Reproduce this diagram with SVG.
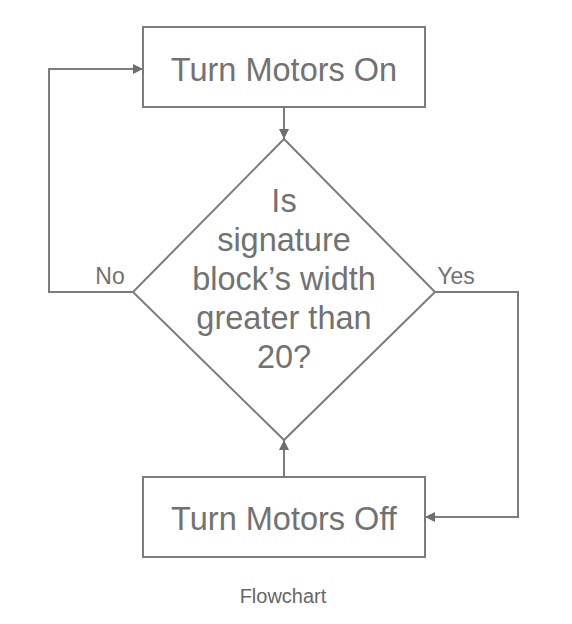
<svg xmlns="http://www.w3.org/2000/svg" width="572" height="624" viewBox="0 0 572 624">
<style>
.shape{fill:#fff;stroke:#7c7c7c;stroke-width:2}
.edge{fill:none;stroke:#7c7c7c;stroke-width:2}
.t{font-family:"Liberation Sans",Arial,sans-serif;fill:#727272;text-anchor:middle}
.big{font-size:32.5px}
.lbl{font-size:23px}
.cap{font-size:20px;fill:#666}
</style>
<defs>
<marker id="ah" viewBox="0 0 10 10" refX="10" refY="5" markerWidth="10" markerHeight="10" markerUnits="userSpaceOnUse" orient="auto">
<path d="M0,0 L10,5 L0,10 z" fill="#6e6e6e"/>
</marker>
</defs>
<rect width="572" height="624" fill="#fff"/>
<g id="connectors">
<path class="edge" d="M284,107 L284,139" marker-end="url(#ah)"/>
<path class="edge" d="M133,292 L49,292 L49,69 L143,69" marker-end="url(#ah)"/>
<path class="edge" d="M435,292 L518,292 L518,517 L425,517" marker-end="url(#ah)"/>
<path class="edge" d="M284,477 L284,440" marker-end="url(#ah)"/>
</g>
<g id="turn-on">
<rect class="shape" x="143" y="27" width="282" height="80"/>
<text class="t big" x="284" y="81">Turn Motors On</text>
</g>
<g id="decision">
<path class="shape" d="M284,139 L435,292 L284,440 L133,292 Z"/>
<text class="t big" x="284" y="212">Is</text>
<text class="t big" x="284" y="251">signature</text>
<text class="t big" x="284" y="290">block’s width</text>
<text class="t big" x="284" y="329">greater than</text>
<text class="t big" x="284" y="368">20?</text>
</g>
<g id="turn-off">
<rect class="shape" x="143" y="477" width="282" height="80"/>
<text class="t big" x="284" y="530">Turn Motors Off</text>
</g>
<g id="labels">
<text class="t lbl" x="110" y="284">No</text>
<text class="t lbl" x="456" y="284">Yes</text>
</g>
<text class="t cap" x="283" y="603">Flowchart</text>
</svg>
